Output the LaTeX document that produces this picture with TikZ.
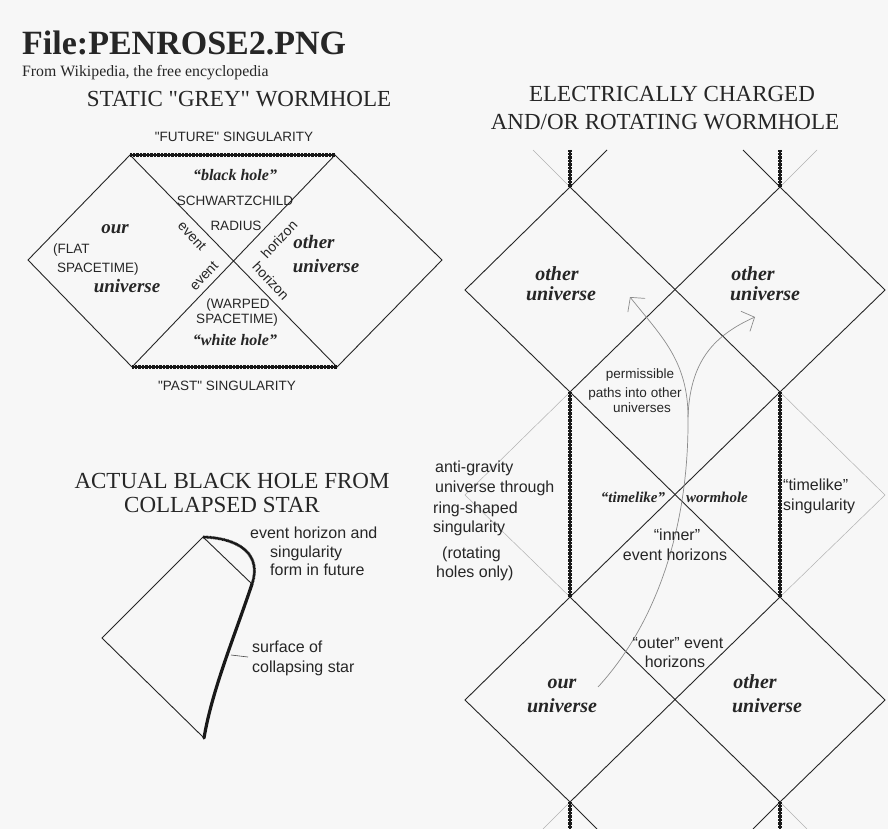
\documentclass[tikz,border=0pt]{standalone}
\usepackage{fontspec}
\setmainfont{Liberation Serif}
\setsansfont{Liberation Sans}
\usetikzlibrary{arrows.meta}
\newcommand{\fs}[1]{\fontsize{#1}{#1}\selectfont}
\newcommand{\q}{\textquotedbl}

\tikzset{
  ttl/.style={font=\fs{23}, inner sep=0pt, anchor=base},
  lbl/.style={font=\sffamily\fs{13.5}, inner sep=0pt, anchor=base},
  note/.style={font=\sffamily\fs{16}, inner sep=0pt, anchor=base west},
  uni/.style={font=\bfseries\itshape\fs{19}, inner sep=0pt, anchor=base},
  ln/.style={black!85, line width=0.9pt},
  ghost/.style={black!30, line width=0.5pt},
  sing/.style={black!90, line width=3.6pt, dash pattern=on 0.7pt off 0.7pt,
    preaction={draw, black!90, line width=2pt, solid}},
  route/.style={black!45, line width=0.7pt},
  barb/.style={-{Straight Barb[length=10pt,width=22pt]}},
}

\begin{document}
\begin{tikzpicture}[x=1pt, y=-1pt, text=black!85]
\fill[black!3] (0,0) rectangle (888,829);
\useasboundingbox (0,0) rectangle (888,829);

% heading
\node[anchor=base west, font=\bfseries\fs{34}, inner sep=0pt] (file) at (22,55) {File:PENROSE2.PNG};
\node[anchor=base west, font=\fs{15.8}, inner sep=0pt] (wiki) at (22,77) {From Wikipedia, the free encyclopedia};

% static wormhole
\coordinate (L) at (28,260);  \coordinate (TL) at (130,155);
\coordinate (TR) at (335,155); \coordinate (R) at (442,260);
\coordinate (BR) at (337,367); \coordinate (BL) at (132,367);
\draw[ln] (BL) -- (L) -- (TL) -- (BR) -- (R) -- (TR) -- (BL);
\draw[sing] (TL) -- (TR);
\draw[sing] (BL) -- (BR);

\node[ttl] (grey) at (239,107) {STATIC \q GREY\q{} WORMHOLE};
\node[lbl] (fut) at (234,142) {\q FUTURE\q{} SINGULARITY};
\node[lbl] (past) at (227,390) {\q PAST\q{} SINGULARITY};
\node[uni, font=\bfseries\itshape\fs{16}] (bh) at (235,181) {``black hole''};
\node[lbl] (schw) at (235,205) {SCHWARTZCHILD};
\node[lbl] (rad) at (236,230) {RADIUS};
\node[lbl, anchor=base west] (flat) at (53,253) {(FLAT};
\node[lbl, anchor=base west] (flat2) at (57,272) {SPACETIME)};
\node[uni] (our1) at (115,233) {our};
\node[uni] (our2) at (127,292) {universe};
\node[uni] (oth1) at (314,248) {other};
\node[uni] (oth2) at (326,272) {universe};
\node[lbl] (warp) at (238,308) {(WARPED};
\node[lbl] (warp2) at (237,323) {SPACETIME)};
\node[uni, font=\bfseries\itshape\fs{16}] (wh) at (235,345) {``white hole''};
\node[lbl, font=\sffamily\fs{14}, anchor=center, rotate=-47] (ev1) at (192,236) {event};
\node[lbl, font=\sffamily\fs{14}, anchor=center, rotate=47] (hz1) at (279,239) {horizon};
\node[lbl, font=\sffamily\fs{14}, anchor=center, rotate=47] (ev2) at (204,276) {event};
\node[lbl, font=\sffamily\fs{14}, anchor=center, rotate=-47] (hz2) at (271,281) {horizon};

% collapsed star
\coordinate (st) at (203,537); \coordinate (sl) at (102,638);
\coordinate (sb) at (204,738); \coordinate (eh) at (252,584);
\draw[ln] (eh) -- (st) -- (sl) -- (sb);
\draw[sing, line width=3pt] (st) .. controls (240,538) and (262,555) .. (eh);
\draw[black!90, line width=3.2pt, line cap=round] (eh) .. controls (235,635) and (212,690) .. (sb);
\coordinate (surf) at (231,655); \coordinate (lead) at (248,657);
\draw[black!70, line width=0.6pt] (surf) -- (lead);

\node[ttl] (act) at (232,488) {ACTUAL BLACK HOLE FROM};
\node[ttl] (act2) at (222,512) {COLLAPSED STAR};
\node[note] (eha) at (250,538) {event horizon and};
\node[note] (eha2) at (270,557) {singularity};
\node[note] (eha3) at (270,575) {form in future};
\node[note] (srf) at (252,652) {surface of};
\node[note] (srf2) at (252,672) {collapsing star};

% charged / rotating wormhole
\foreach \r/\y in {0/187, 1/392, 2/597, 3/802} {
  \coordinate (a\r) at (570,\y);
  \coordinate (b\r) at (780,\y);
}
\foreach \r/\y in {0/290, 1/495, 2/700} {
  \coordinate (l\r) at (465,\y);
  \coordinate (m\r) at (675,\y);
  \coordinate (r\r) at (885,\y);
}
\coordinate (at) at (570,150); \coordinate (bt) at (780,150);
\coordinate (ab) at (570,829); \coordinate (bb) at (780,829);

\draw[ln] (a0) -- (l0) -- (a1) -- (b2) -- (r2) -- (b3) -- (a2) -- (l2) -- (a3) -- (b2);
\draw[ln] (b0) -- (r0) -- (b1) -- (a2);
\draw[ln] (b0) -- (a1);
\draw[ln] (a0) -- (b1);
\draw[ln] (a0) -- ++(37,-37);
\draw[ln] (b0) -- ++(-37,-37);
\draw[ln] (a3) -- ++(27,27);
\draw[ln] (b3) -- ++(-27,27);
\draw[ghost] (a0) -- ++(-37,-37);
\draw[ghost] (b0) -- ++(37,-37);
\draw[ghost] (a3) -- ++(-27,27);
\draw[ghost] (b3) -- ++(27,27);
\draw[ghost] (a1) -- (l1) -- (a2);
\draw[ghost] (b1) -- (r1) -- (b2);
\foreach \c in {a,b} {
  \draw[sing] (\c t) -- (\c 0);
  \draw[sing] (\c 1) -- (\c 2);
  \draw[sing] (\c 3) -- (\c b);
}

% paths into the other universes
\coordinate (s0) at (598,687); \coordinate (fk) at (688,417);
\coordinate (tl) at (630,297); \coordinate (tr) at (755,317);
\draw[route] (s0) .. controls (655,625) and (689,530) .. (fk);
\draw[route, barb] (fk) .. controls (688,360) and (660,335) .. (tl);
\draw[route, barb] (fk) .. controls (690,360) and (715,335) .. (tr);

\node[ttl] (elec) at (672,102) {ELECTRICALLY CHARGED};
\node[ttl] (elec2) at (665,130) {AND/OR ROTATING WORMHOLE};
\node[uni, font=\bfseries\itshape\fs{20}] (u1) at (557,280) {other};
\node[uni, font=\bfseries\itshape\fs{20}] (u1b) at (561,300) {universe};
\node[uni, font=\bfseries\itshape\fs{20}] (u2) at (753,280) {other};
\node[uni, font=\bfseries\itshape\fs{20}] (u2b) at (765,300) {universe};
\node[uni, font=\bfseries\itshape\fs{20}] (u3) at (562,688) {our};
\node[uni, font=\bfseries\itshape\fs{20}] (u3b) at (562,712) {universe};
\node[uni, font=\bfseries\itshape\fs{20}] (u4) at (755,688) {other};
\node[uni, font=\bfseries\itshape\fs{20}] (u4b) at (767,712) {universe};
\node[lbl, font=\sffamily\fs{13.5}] (pp) at (640,378) {permissible};
\node[lbl, font=\sffamily\fs{13.5}] (pp2) at (635,397) {paths into other};
\node[lbl, font=\sffamily\fs{13.5}] (pp3) at (642,412) {universes};
\node[note] (ag) at (435,472) {anti-gravity};
\node[note] (ag2) at (435,492) {universe through};
\node[note] (ag3) at (433,513) {ring-shaped};
\node[note] (ag4) at (433,532) {singularity};
\node[note] (ag5) at (442,558) {(rotating};
\node[note] (ag6) at (436,577) {holes only)};
\node[uni, font=\bfseries\itshape\fs{15}] (tlk) at (633,502) {``timelike''};
\node[uni, font=\bfseries\itshape\fs{15}] (wrm) at (717,502) {wormhole};
\node[note] (ts) at (783,490) {``timelike''};
\node[note] (ts2) at (783,510) {singularity};
\node[lbl, font=\sffamily\fs{16}] (inn) at (677,540) {``inner''};
\node[lbl, font=\sffamily\fs{16}] (inn2) at (675,560) {event horizons};
\node[lbl, font=\sffamily\fs{16}] (out) at (678,648) {``outer'' event};
\node[lbl, font=\sffamily\fs{16}] (out2) at (675,667) {horizons};
\end{tikzpicture}
\end{document}
